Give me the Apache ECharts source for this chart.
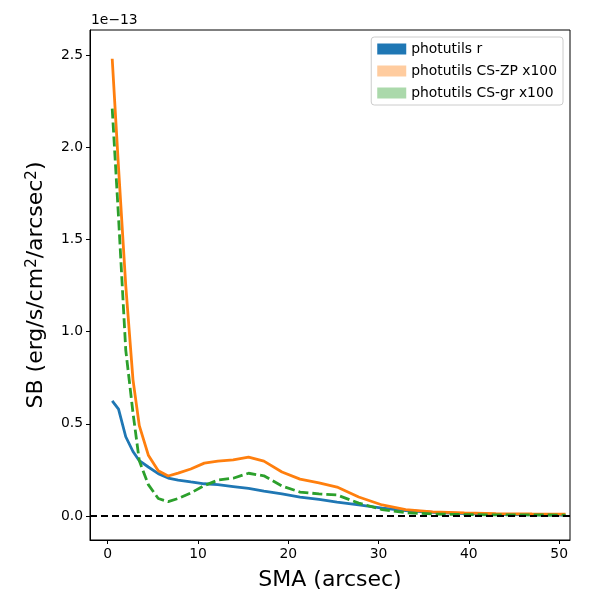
<!DOCTYPE html>
<html lang="en">
<head>
<meta charset="UTF-8">
<script src="https://cdn.jsdelivr.net/npm/echarts@6/dist/echarts.min.js"></script>
<title>SB profile</title>
<style>
  *{margin:0;padding:0}
  html,body{width:100%;height:100%;background:#fff}
</style>
</head>
<body>
<div id="main" style="width:600px;height:600px"></div>
<script type="text/javascript">
// values, SB in units of 1e-13
var sma = [0.5, 1.2, 2.0, 2.8, 3.5, 4.5, 5.6, 6.7, 7.8, 9.2, 10.7, 12.2, 13.9, 15.6, 17.3,
           19.3, 21.3, 23.4, 25.4, 27.8, 30.4, 33.0, 36.0, 39.5, 43.0, 47.0, 50.7];
var sbR = [0.625, 0.58, 0.43, 0.35, 0.30, 0.266, 0.23, 0.206, 0.195, 0.185, 0.175, 0.17, 0.16, 0.15, 0.135,
           0.12, 0.103, 0.09, 0.075, 0.06, 0.043, 0.03, 0.02, 0.013, 0.009, 0.006, 0.005];
var sbZP = [2.48, 1.89, 1.25, 0.74, 0.49, 0.33, 0.245, 0.217, 0.233, 0.255, 0.287, 0.298, 0.304, 0.32, 0.298,
            0.239, 0.20, 0.18, 0.157, 0.103, 0.06, 0.035, 0.022, 0.017, 0.013, 0.011, 0.01];
var sbGR = [2.21, 1.62, 0.90, 0.56, 0.30, 0.17, 0.095, 0.078, 0.095, 0.125, 0.165, 0.195, 0.205, 0.232, 0.218,
            0.163, 0.13, 0.12, 0.114, 0.07, 0.035, 0.018, 0.011, 0.008, 0.006, 0.006, 0.005];
var names = ['photutils r', 'photutils CS-ZP x100', 'photutils CS-gr x100'];
var xTicks = [0, 10, 20, 30, 40, 50];
var yTicks = [0, 0.5, 1.0, 1.5, 2.0, 2.5];

function pairs(xs, ys){
  var out = [];
  for (var i = 0; i < xs.length; i++) out.push([xs[i], ys[i]]);
  return out;
}

var chart = echarts.init(document.getElementById('main'));
var font = 'DejaVu Sans';

var option = {
  animation: false,
  textStyle: {fontFamily: font, color: '#000'},
  grid: {left: 90, right: 30, top: 30, bottom: 60, show: true, borderColor: '#000', borderWidth: 1},
  graphic: [{
    type: 'text', left: 91, top: 13,
    style: {text: '1e\u221213', font: '13.9px ' + font, fill: '#000'}
  }],
  legend: {
    orient: 'vertical', right: 37, top: 37,
    padding: [5, 6, 5, 6], itemGap: 8, itemWidth: 29, itemHeight: 11,
    borderColor: '#cccccc', borderWidth: 1, borderRadius: 3,
    icon: 'rect',
    textStyle: {fontFamily: font, fontSize: 13.9, color: '#000'},
    data: [
      {name: names[0], itemStyle: {color: '#1f77b4'}},
      {name: names[1], itemStyle: {color: '#ffcc9f'}},
      {name: names[2], itemStyle: {color: '#abd9ab'}}
    ]
  },
  xAxis: {
    type: 'value', min: -1.96, max: 51.2,
    name: 'SMA (arcsec)', nameLocation: 'middle', nameGap: 29,
    nameTextStyle: {fontFamily: font, fontSize: 22, color: '#000'},
    axisLine: {onZero: false, lineStyle: {color: '#000', width: 1}},
    axisTick: {inside: false, length: 4, customValues: xTicks, lineStyle: {color: '#000'}},
    axisLabel: {customValues: xTicks, fontFamily: font, fontSize: 13.9, color: '#000', margin: 7},
    splitLine: {show: false}
  },
  yAxis: {
    type: 'value', min: -0.13, max: 2.636,
    name: 'SB (erg/s/cm{sup|2}/arcsec{sup|2})', nameLocation: 'middle', nameGap: 42,
    nameTextStyle: {
      fontFamily: font, fontSize: 22, color: '#000',
      rich: {
        sup: {fontFamily: font, fontSize: 15, color: '#000', verticalAlign: 'top', padding: [0, 0, 8, 0]}
      }
    },
    axisLine: {show: true, onZero: false, lineStyle: {color: '#000', width: 1}},
    axisTick: {show: true, inside: false, length: 4, customValues: yTicks, lineStyle: {color: '#000'}},
    axisLabel: {customValues: yTicks, fontFamily: font, fontSize: 13.9, color: '#000', margin: 7,
      formatter: function(v){ return v.toFixed(1); }},
    splitLine: {show: false}
  },
  series: [
    {
      name: names[0], type: 'line', showSymbol: false, symbol: 'none',
      data: pairs(sma, sbR),
      lineStyle: {color: '#1f77b4', width: 2.8},
      itemStyle: {color: '#1f77b4'},
      markLine: {
        silent: true, symbol: 'none', label: {show: false},
        lineStyle: {color: '#000', type: [7, 4], width: 2},
        data: [{yAxis: 0}]
      }
    },
    {
      name: names[1], type: 'line', showSymbol: false, symbol: 'none',
      data: pairs(sma, sbZP),
      lineStyle: {color: '#ff7f0e', width: 2.8},
      itemStyle: {color: '#ff7f0e'}
    },
    {
      name: names[2], type: 'line', showSymbol: false, symbol: 'none',
      data: pairs(sma, sbGR),
      lineStyle: {color: '#2ca02c', width: 2.8, type: [10, 4]},
      itemStyle: {color: '#2ca02c'}
    }
  ]
};
chart.setOption(option);
</script>
</body>
</html>
